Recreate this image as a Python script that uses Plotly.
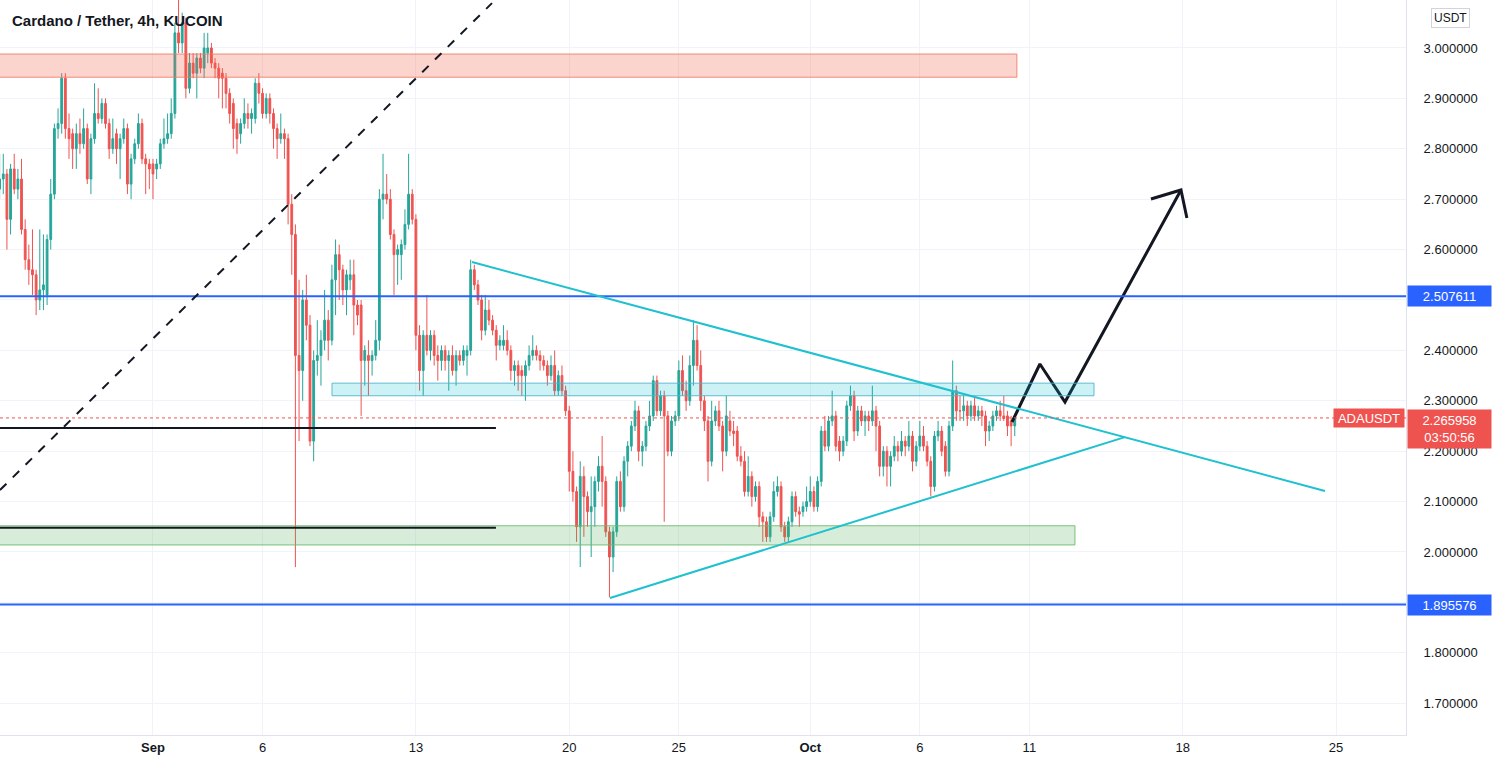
import pandas as pd
import plotly.graph_objects as go

# ---------------- data (4h candles, ADA/USDT KUCOIN) ----------------
start_time = "2021-08-25 00:00"

open_ = [
2.72,2.74,2.75,2.66,2.76,2.72,2.74,2.64,2.58,2.56,
2.55,2.50,2.52,2.51,2.62,2.71,2.84,2.85,2.94,2.84,
2.83,2.80,2.83,2.81,2.84,2.74,2.82,2.87,2.86,2.89,
2.85,2.80,2.83,2.80,2.82,2.84,2.73,2.78,2.81,2.85,
2.78,2.77,2.77,2.76,2.77,2.81,2.82,2.83,2.87,3.03,
3.01,3.05,2.92,2.97,2.95,2.98,2.96,2.99,3.00,2.97,
2.96,2.95,2.94,2.91,2.89,2.85,2.83,2.85,2.87,2.86,
2.86,2.93,2.91,2.87,2.90,2.87,2.84,2.82,2.83,2.82,
2.69,2.63,2.39,2.36,2.50,2.45,2.22,2.38,2.39,2.42,
2.46,2.42,2.54,2.59,2.56,2.52,2.54,2.55,2.49,2.49,
2.38,2.39,2.38,2.39,2.42,2.70,2.71,2.70,2.63,2.59,
2.59,2.61,2.65,2.71,2.66,2.43,2.36,2.43,2.40,2.43,
2.39,2.38,2.40,2.38,2.39,2.36,2.39,2.38,2.39,2.40,
2.56,2.53,2.50,2.44,2.48,2.46,2.44,2.41,2.41,2.42,
2.40,2.36,2.37,2.36,2.35,2.37,2.39,2.40,2.39,2.38,
2.37,2.35,2.37,2.32,2.35,2.32,2.28,2.16,2.12,2.05,
2.15,2.11,2.08,2.09,2.14,2.17,2.14,2.04,1.99,2.04,
2.14,2.09,2.18,2.21,2.25,2.28,2.20,2.21,2.25,2.27,
2.34,2.28,2.31,2.27,2.20,2.26,2.27,2.36,2.32,2.30,
2.37,2.42,2.37,2.30,2.26,2.18,2.26,2.28,2.25,2.20,
2.26,2.24,2.24,2.19,2.18,2.12,2.15,2.11,2.13,2.07,
2.06,2.03,2.07,2.12,2.13,2.05,2.03,2.06,2.11,2.08,
2.08,2.09,2.10,2.12,2.09,2.14,2.24,2.21,2.26,2.27,
2.22,2.20,2.22,2.29,2.31,2.24,2.28,2.26,2.27,2.26,
2.28,2.25,2.17,2.20,2.17,2.19,2.21,2.20,2.22,2.21,
2.23,2.18,2.21,2.23,2.21,2.18,2.13,2.23,2.24,2.21,
2.16,2.25,2.32,2.28,2.28,2.29,2.27,2.29,2.27,2.28,
2.27,2.24,2.25,2.27,2.28,2.27,2.27,2.26,2.25]

high_ = [
2.79,2.79,2.76,2.77,2.79,2.76,2.78,2.66,2.61,2.64,
2.56,2.64,2.63,2.63,2.74,2.85,2.88,2.95,2.95,2.87,
2.84,2.85,2.86,2.88,2.85,2.83,2.93,2.92,2.90,2.90,
2.86,2.86,2.84,2.83,2.86,2.85,2.79,2.82,2.87,2.86,
2.79,2.78,2.78,2.78,2.82,2.86,2.87,2.90,3.05,3.10,
3.07,3.06,2.99,2.99,2.99,2.99,3.03,3.03,3.01,2.98,
2.97,2.96,2.95,2.92,2.90,2.86,2.86,2.90,2.89,2.88,
2.94,2.95,2.92,2.91,2.91,2.88,2.85,2.87,2.84,2.83,
2.71,2.65,2.54,2.52,2.55,2.47,2.40,2.46,2.44,2.52,
2.48,2.57,2.62,2.61,2.57,2.56,2.58,2.58,2.50,2.50,
2.41,2.42,2.40,2.46,2.72,2.79,2.75,2.72,2.64,2.61,
2.62,2.68,2.79,2.72,2.67,2.45,2.44,2.51,2.44,2.44,
2.41,2.41,2.41,2.40,2.41,2.40,2.40,2.41,2.41,2.58,
2.57,2.54,2.51,2.51,2.50,2.47,2.45,2.43,2.45,2.44,
2.41,2.38,2.38,2.37,2.38,2.41,2.43,2.41,2.40,2.39,
2.38,2.39,2.40,2.36,2.37,2.33,2.29,2.20,2.13,2.18,
2.17,2.12,2.15,2.15,2.19,2.23,2.15,2.05,2.05,2.15,
2.16,2.19,2.22,2.26,2.30,2.29,2.22,2.26,2.30,2.35,
2.35,2.32,2.32,2.28,2.27,2.28,2.38,2.39,2.34,2.39,
2.46,2.45,2.40,2.31,2.27,2.30,2.29,2.30,2.26,2.31,
2.28,2.26,2.25,2.21,2.20,2.19,2.16,2.14,2.14,2.08,
2.07,2.08,2.14,2.15,2.14,2.06,2.07,2.12,2.12,2.09,
2.10,2.13,2.15,2.13,2.15,2.25,2.27,2.27,2.32,2.28,
2.23,2.23,2.30,2.33,2.32,2.29,2.29,2.28,2.28,2.33,
2.29,2.26,2.21,2.21,2.20,2.23,2.22,2.24,2.23,2.26,
2.24,2.22,2.26,2.25,2.22,2.19,2.24,2.26,2.25,2.22,
2.26,2.38,2.33,2.31,2.31,2.30,2.30,2.31,2.29,2.29,
2.28,2.26,2.28,2.29,2.30,2.31,2.28,2.27,2.27]

low_ = [
2.70,2.71,2.60,2.63,2.71,2.70,2.63,2.56,2.53,2.51,
2.47,2.48,2.48,2.49,2.60,2.70,2.82,2.83,2.82,2.78,
2.76,2.76,2.79,2.80,2.73,2.71,2.81,2.85,2.85,2.84,
2.78,2.79,2.77,2.74,2.81,2.71,2.70,2.77,2.80,2.77,
2.71,2.72,2.70,2.74,2.76,2.80,2.81,2.82,2.86,2.99,
2.99,2.90,2.91,2.94,2.90,2.95,2.94,2.97,2.96,2.94,
2.90,2.88,2.88,2.85,2.80,2.79,2.81,2.84,2.84,2.83,
2.85,2.89,2.86,2.86,2.85,2.80,2.78,2.81,2.78,2.65,
2.55,1.97,2.22,2.30,2.42,2.21,2.18,2.35,2.33,2.40,
2.38,2.41,2.47,2.50,2.49,2.47,2.52,2.43,2.45,2.27,
2.33,2.31,2.35,2.38,2.40,2.66,2.69,2.62,2.51,2.53,
2.54,2.60,2.64,2.65,2.40,2.32,2.31,2.39,2.38,2.37,
2.34,2.36,2.36,2.32,2.35,2.33,2.37,2.37,2.35,2.39,
2.52,2.49,2.42,2.43,2.45,2.43,2.38,2.40,2.40,2.39,
2.34,2.33,2.32,2.31,2.30,2.36,2.38,2.38,2.36,2.36,
2.33,2.34,2.31,2.31,2.31,2.27,2.12,2.10,2.02,1.97,
2.03,2.05,1.99,2.05,2.12,2.09,2.03,1.91,1.96,2.03,
2.08,2.08,2.15,2.20,2.24,2.18,2.17,2.20,2.24,2.26,
2.27,2.27,2.06,2.19,2.19,2.25,2.26,2.31,2.28,2.29,
2.33,2.36,2.28,2.24,2.14,2.17,2.25,2.24,2.16,2.19,
2.23,2.21,2.18,2.17,2.11,2.11,2.09,2.10,2.05,2.02,
2.02,2.02,2.06,2.11,2.04,2.02,2.02,2.05,2.07,2.05,
2.07,2.08,2.09,2.08,2.08,2.13,2.20,2.20,2.25,2.20,
2.18,2.19,2.21,2.28,2.22,2.23,2.25,2.23,2.24,2.25,
2.20,2.15,2.15,2.13,2.13,2.18,2.18,2.19,2.19,2.20,
2.16,2.17,2.20,2.20,2.17,2.11,2.12,2.22,2.19,2.15,
2.15,2.24,2.26,2.26,2.26,2.25,2.26,2.26,2.26,2.25,
2.21,2.22,2.24,2.26,2.26,2.26,2.23,2.21,2.23]

close_ = [
2.74,2.75,2.66,2.76,2.72,2.74,2.64,2.58,2.56,2.55,
2.50,2.52,2.53,2.62,2.71,2.84,2.85,2.94,2.84,2.82,
2.80,2.83,2.81,2.84,2.74,2.82,2.87,2.86,2.89,2.85,
2.80,2.82,2.80,2.82,2.84,2.73,2.78,2.81,2.85,2.78,
2.77,2.76,2.75,2.77,2.81,2.82,2.83,2.87,3.03,3.01,
3.05,2.92,2.97,2.95,2.98,2.96,3.00,3.00,2.97,2.96,
2.94,2.94,2.91,2.87,2.84,2.82,2.85,2.87,2.86,2.87,
2.93,2.91,2.87,2.90,2.87,2.84,2.82,2.83,2.82,2.69,
2.63,2.39,2.36,2.50,2.45,2.22,2.38,2.39,2.42,2.46,
2.42,2.54,2.59,2.56,2.52,2.55,2.55,2.49,2.47,2.38,
2.40,2.38,2.39,2.42,2.70,2.71,2.70,2.63,2.59,2.60,
2.61,2.65,2.71,2.66,2.43,2.36,2.43,2.40,2.43,2.39,
2.38,2.40,2.38,2.39,2.36,2.39,2.38,2.40,2.40,2.56,
2.53,2.50,2.44,2.48,2.46,2.44,2.41,2.42,2.42,2.40,
2.36,2.37,2.35,2.35,2.37,2.39,2.40,2.39,2.38,2.37,
2.35,2.37,2.32,2.35,2.32,2.28,2.16,2.12,2.05,2.15,
2.11,2.08,2.09,2.14,2.17,2.14,2.04,1.99,2.04,2.14,
2.09,2.18,2.21,2.25,2.28,2.20,2.21,2.25,2.27,2.34,
2.28,2.31,2.27,2.20,2.26,2.27,2.36,2.32,2.30,2.37,
2.42,2.37,2.30,2.26,2.18,2.26,2.28,2.25,2.20,2.27,
2.24,2.235,2.19,2.18,2.12,2.15,2.11,2.13,2.07,2.06,
2.03,2.07,2.12,2.13,2.05,2.03,2.06,2.11,2.08,2.075,
2.09,2.10,2.12,2.09,2.14,2.24,2.21,2.26,2.27,2.21,
2.20,2.22,2.29,2.31,2.24,2.28,2.26,2.27,2.26,2.28,
2.25,2.17,2.20,2.17,2.19,2.21,2.20,2.22,2.21,2.23,
2.18,2.21,2.23,2.21,2.18,2.13,2.23,2.24,2.20,2.16,
2.25,2.32,2.28,2.28,2.29,2.27,2.29,2.27,2.28,2.27,
2.24,2.25,2.27,2.28,2.27,2.265,2.25,2.25,2.265958]

# axis ticks (2.5 and 1.9 are hidden behind the level labels, as in the reference)
price_ticks = [1.7, 1.8, 1.9, 2.0, 2.1, 2.2, 2.3, 2.4, 2.5, 2.6, 2.7, 2.8, 2.9, 3.0]
price_tick_text = ["1.700000", "1.800000", "", "2.000000", "2.100000", "2.200000",
                   "2.300000", "2.400000", "", "2.600000", "2.700000", "2.800000",
                   "2.900000", "3.000000"]
date_ticks = ["2021-09-01", "2021-09-06", "2021-09-13", "2021-09-20", "2021-09-25",
              "2021-10-01", "2021-10-06", "2021-10-11", "2021-10-18", "2021-10-25"]
date_tick_text = ["<b>Sep</b>", "6", "13", "20", "25", "<b>Oct</b>", "6", "11", "18", "25"]

# key levels / drawings (price, time)
last_price = 2.265958
countdown = "03:50:56"
level_high = 2.507611
level_low = 1.895576
x_view = ["2021-08-25 00:25", "2021-10-28 04:34"]
y_view = [1.6369, 3.0952]

red_zone = dict(t0="2021-08-24 00:00", t1="2021-10-10 10:20", p0=2.942, p1=2.988)
cyan_zone = dict(t0="2021-09-09 04:05", t1="2021-10-13 22:48", p0=2.310, p1=2.335)
green_zone = dict(t0="2021-08-24 00:00", t1="2021-10-13 01:55", p0=2.014, p1=2.052)
black_lines = [2.246, 2.048]
black_line_t = ["2021-08-24 00:00", "2021-09-16 15:40"]
dashed_t = ["2021-08-25 00:25", "2021-09-16 11:20"]
dashed_p = [2.123, 3.089]
tri_upper_t = ["2021-09-15 13:26", "2021-10-24 11:46"]
tri_upper_p = [2.5754, 2.121]
tri_lower_t = ["2021-09-21 20:38", "2021-10-15 08:40"]
tri_lower_p = [1.9087, 2.228]
arrow_t = ["2021-10-10 04:59", "2021-10-11 11:33", "2021-10-12 15:02", "2021-10-17 22:04"]
arrow_p = [2.2579, 2.3730, 2.2976, 2.7183]
arrow_head_t = ["2021-10-16 13:12", "2021-10-17 22:04", "2021-10-18 04:34"]
arrow_head_p = [2.7004, 2.7183, 2.6627]

# ---------------- figure ----------------
times = pd.date_range(start_time, periods=len(close_), freq="4h")

UP = "#26a69a"
DOWN = "#ef5350"
TXT = "#131722"
GRID = "#f0f3fa"
FONT = "Liberation Sans"

fig = go.Figure()
fig.add_trace(go.Candlestick(
    x=times, open=open_, high=high_, low=low_, close=close_,
    increasing=dict(line=dict(color=UP, width=1), fillcolor=UP),
    decreasing=dict(line=dict(color=DOWN, width=1), fillcolor=DOWN),
    whiskerwidth=0, hoverinfo="skip", showlegend=False,
))

# arrow drawing
fig.add_trace(go.Scatter(x=arrow_t, y=arrow_p, mode="lines",
                         line=dict(color=TXT, width=3), hoverinfo="skip", showlegend=False))
fig.add_trace(go.Scatter(x=arrow_head_t, y=arrow_head_p, mode="lines",
                         line=dict(color=TXT, width=3), hoverinfo="skip", showlegend=False))

shapes = []
# zones
shapes.append(dict(type="rect", xref="x", yref="y", x0=red_zone["t0"], x1=red_zone["t1"],
                   y0=red_zone["p0"], y1=red_zone["p1"],
                   fillcolor="rgba(245,100,80,0.28)", line=dict(color="rgba(238,120,100,0.85)", width=1)))
shapes.append(dict(type="rect", xref="x", yref="y", x0=cyan_zone["t0"], x1=cyan_zone["t1"],
                   y0=cyan_zone["p0"], y1=cyan_zone["p1"],
                   fillcolor="rgba(0,188,212,0.2)", line=dict(color="rgba(80,180,205,0.9)", width=1)))
shapes.append(dict(type="rect", xref="x", yref="y", x0=green_zone["t0"], x1=green_zone["t1"],
                   y0=green_zone["p0"], y1=green_zone["p1"],
                   fillcolor="rgba(76,175,80,0.22)", line=dict(color="rgba(110,185,110,0.9)", width=1)))
# blue levels
for lv in (level_high, level_low):
    shapes.append(dict(type="line", xref="paper", yref="y", x0=0, x1=1, y0=lv, y1=lv,
                       line=dict(color="#2962ff", width=2)))
# black lines
for lv in black_lines:
    shapes.append(dict(type="line", xref="x", yref="y", x0=black_line_t[0], x1=black_line_t[1],
                       y0=lv, y1=lv, line=dict(color=TXT, width=2)))
# dashed diagonal
shapes.append(dict(type="line", xref="x", yref="y", x0=dashed_t[0], x1=dashed_t[1],
                   y0=dashed_p[0], y1=dashed_p[1], line=dict(color=TXT, width=2, dash="dash")))
# triangle
shapes.append(dict(type="line", xref="x", yref="y", x0=tri_upper_t[0], x1=tri_upper_t[1],
                   y0=tri_upper_p[0], y1=tri_upper_p[1], line=dict(color="#1fc1cf", width=2)))
shapes.append(dict(type="line", xref="x", yref="y", x0=tri_lower_t[0], x1=tri_lower_t[1],
                   y0=tri_lower_p[0], y1=tri_lower_p[1], line=dict(color="#1fc1cf", width=2)))
# current price dotted line
shapes.append(dict(type="line", xref="paper", yref="y", x0=0, x1=1, y0=last_price, y1=last_price,
                   line=dict(color=DOWN, width=1, dash="dot")))

PLOT_W = 1406.0
PLOT_H = 735.0

annotations = [
    dict(xref="paper", yref="paper", x=10 / PLOT_W, y=1 - 20 / PLOT_H, xanchor="left", yanchor="middle",
         text="<b>Cardano / Tether, 4h, KUCOIN</b>", showarrow=False,
         font=dict(family=FONT, size=15, color=TXT)),
    dict(xref="paper", yref="paper", x=1450 / PLOT_W, y=1 - 18 / PLOT_H, xanchor="center", yanchor="middle",
         text="USDT", showarrow=False, bgcolor="white", bordercolor="#d1d4dc", borderwidth=1,
         borderpad=2, font=dict(family=FONT, size=12, color=TXT)),
]
for lv in (level_high, level_low):
    annotations.append(dict(xref="paper", yref="y", x=1407 / PLOT_W, y=lv, xanchor="left", yanchor="middle",
                            text=f"{lv:.6f}", showarrow=False, bgcolor="#2962ff", width=79, height=16,
                            borderpad=2, font=dict(family=FONT, size=13, color="white")))
annotations.append(dict(xref="paper", yref="y", x=1405 / PLOT_W, y=last_price, xanchor="right", yanchor="middle",
                        text="ADAUSDT", showarrow=False, bgcolor=DOWN, width=68, height=16, borderpad=1,
                        font=dict(family=FONT, size=13, color="white")))
annotations.append(dict(xref="paper", yref="y", x=1407 / PLOT_W, y=last_price, xanchor="left", yanchor="top",
                        yshift=9, text=f"{last_price:.6f}<br>{countdown}", showarrow=False, bgcolor=DOWN,
                        width=79, height=34, borderpad=2, align="center",
                        font=dict(family=FONT, size=13, color="white")))

fig.update_layout(
    width=1493, height=767,
    margin=dict(l=0, r=87, t=0, b=32),
    paper_bgcolor="white", plot_bgcolor="white",
    showlegend=False,
    shapes=shapes, annotations=annotations,
    xaxis=dict(type="date", range=x_view, rangeslider=dict(visible=False),
               tickvals=date_ticks, ticktext=date_tick_text, showgrid=True, gridcolor=GRID,
               showline=True, linecolor="#e0e3eb", linewidth=1, ticks="", zeroline=False,
               tickfont=dict(family=FONT, size=13, color=TXT), fixedrange=True),
    yaxis=dict(range=y_view, side="right", tickvals=price_ticks, ticktext=price_tick_text,
               showgrid=True, gridcolor=GRID, showline=True, linecolor="#e0e3eb", linewidth=1,
               ticks="", zeroline=False, ticklabelstandoff=14,
               tickfont=dict(family=FONT, size=13, color=TXT), fixedrange=True),
    hovermode=False,
)

fig.write_html("out.html")
